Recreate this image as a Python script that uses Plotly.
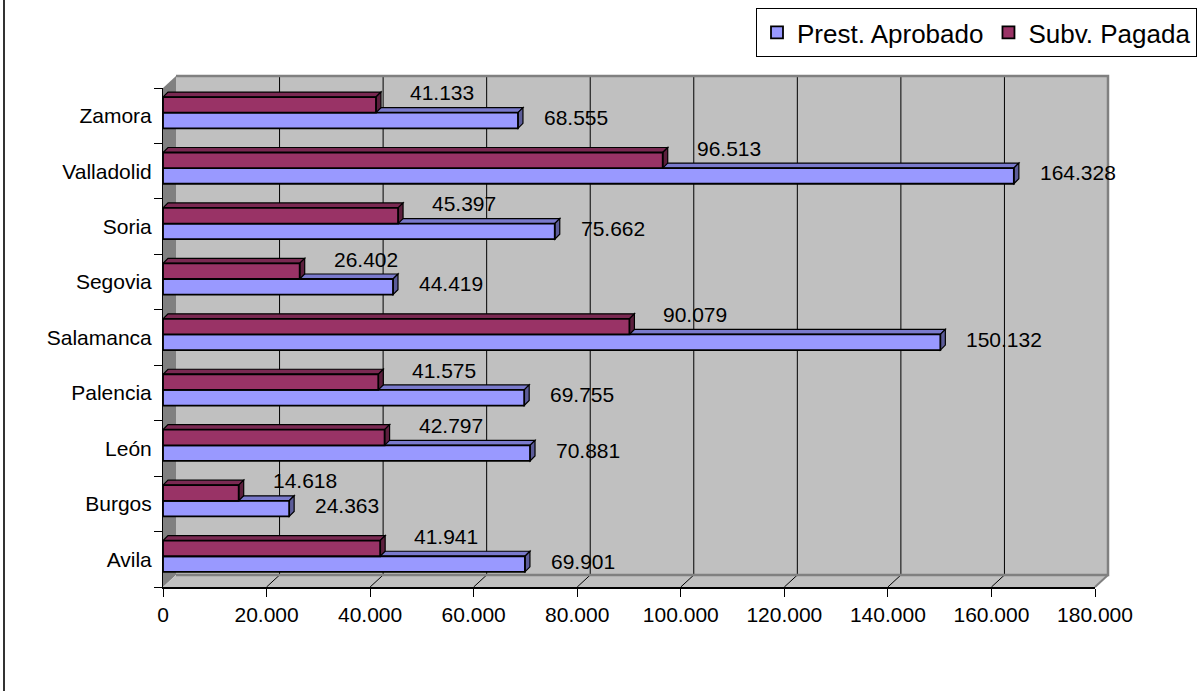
import plotly.graph_objects as go

# ---------------- data ----------------
categories = ["Avila", "Burgos", "León", "Palencia", "Salamanca",
              "Segovia", "Soria", "Valladolid", "Zamora"]
prest_aprobado = [69901, 24363, 70881, 69755, 150132, 44419, 75662, 164328, 68555]
subv_pagada = [41941, 14618, 42797, 41575, 90079, 26402, 45397, 96513, 41133]
x_ticks = [0, 20000, 40000, 60000, 80000, 100000, 120000, 140000, 160000, 180000]
series_names = ["Prest. Aprobado", "Subv. Pagada"]

# ---------------- geometry / style ----------------
FIG_W, FIG_H = 1197, 691
L, T = 163, 76
FRONT_W, FRONT_H = 932, 499
DEPTH_X, DEPTH_Y = 13, 12
PW, PH = FRONT_W + DEPTH_X, FRONT_H + DEPTH_Y
R = FIG_W - L - PW
B = FIG_H - T - PH
X_MAX = x_ticks[-1]
FW, FH = FRONT_W / PW, FRONT_H / PH
DXP, DYP = DEPTH_X / PW, DEPTH_Y / PH

BLUE, BLUE_TOP, BLUE_END = "#9999FF", "#7A7ACC", "#5C5C99"
MAR, MAR_TOP, MAR_END = "#993366", "#7A2952", "#5C1F3D"
FONT = "Arial, 'Liberation Sans', sans-serif"

BAR_W = 0.282
BLUE_OFF, MAR_OFF = -0.227, 0.055
FACE_PX = 5
dx_data = FACE_PX * X_MAX / FRONT_W
dy_cat = FACE_PX * len(categories) / FRONT_H


def fmt(v):
    return f"{v:,}".replace(",", ".")


def xp(v):
    return v / X_MAX * FW


fig = go.Figure()
fig.add_trace(go.Bar(y=categories, x=prest_aprobado, orientation="h", name=series_names[0],
                     marker=dict(color=BLUE, line=dict(color="black", width=1.8)),
                     width=BAR_W, offset=BLUE_OFF, hoverinfo="x+y"))
fig.add_trace(go.Bar(y=categories, x=subv_pagada, orientation="h", name=series_names[1],
                     marker=dict(color=MAR, line=dict(color="black", width=1.8)),
                     width=BAR_W, offset=MAR_OFF, hoverinfo="x+y"))

shapes = []
# back wall, left wall, floor
shapes.append(dict(type="rect", xref="paper", yref="paper", x0=DXP, x1=1, y0=DYP, y1=1,
                   fillcolor="#C0C0C0", line=dict(width=0), layer="below"))
shapes.append(dict(type="path", xref="paper", yref="paper",
                   path=f"M 0,0 L {DXP},{DYP} L {DXP},1 L 0,{FH} Z",
                   fillcolor="#808080", line=dict(width=0), layer="below"))
shapes.append(dict(type="path", xref="paper", yref="paper",
                   path=f"M 0,0 L {FW},0 L 1,{DYP} L {DXP},{DYP} Z",
                   fillcolor="#C0C0C0", line=dict(width=0), layer="below"))
# gridlines on wall and floor
for t in x_ticks[1:-1]:
    shapes.append(dict(type="line", xref="paper", yref="paper",
                       x0=xp(t) + DXP, x1=xp(t) + DXP, y0=DYP, y1=1,
                       line=dict(color="black", width=1), layer="below"))
    shapes.append(dict(type="line", xref="paper", yref="paper",
                       x0=xp(t), x1=xp(t) + DXP, y0=0, y1=DYP,
                       line=dict(color="black", width=1), layer="below"))
# wall border
shapes.append(dict(type="path", xref="paper", yref="paper",
                   path=f"M {DXP},{DYP} L 1,{DYP} L 1,1 L {DXP},1",
                   line=dict(color="#808080", width=2.5), layer="below"))
shapes.append(dict(type="line", xref="paper", yref="paper", x0=FW, y0=0, x1=1, y1=DYP,
                   line=dict(color="#808080", width=2), layer="below"))
# outer chart frame (left edge)
shapes.append(dict(type="line", xref="paper", yref="paper",
                   x0=(4 - L) / PW, x1=(4 - L) / PW, y0=-(B / PH), y1=(T + PH) / PH,
                   line=dict(color="#333333", width=2)))

# 3D faces of the bars
for i in range(len(categories)):
    for vals, off, top_c, end_c in ((prest_aprobado, BLUE_OFF, BLUE_TOP, BLUE_END),
                                    (subv_pagada, MAR_OFF, MAR_TOP, MAR_END)):
        v = vals[i]
        y0 = i + off
        y1 = y0 + BAR_W
        shapes.append(dict(type="path", xref="x", yref="y", layer="between",
                           path=f"M 0,{y1} L {v},{y1} L {v + dx_data},{y1 + dy_cat} L {dx_data},{y1 + dy_cat} Z",
                           fillcolor=top_c, line=dict(color="black", width=1.2)))
        shapes.append(dict(type="path", xref="x", yref="y", layer="between",
                           path=f"M {v},{y0} L {v},{y1} L {v + dx_data},{y1 + dy_cat} L {v + dx_data},{y0 + dy_cat} Z",
                           fillcolor=end_c, line=dict(color="black", width=1.2)))

annotations = []
for i in range(len(categories)):
    annotations.append(dict(x=subv_pagada[i], y=i + MAR_OFF + BAR_W / 2, xref="x", yref="y",
                            text=fmt(subv_pagada[i]), showarrow=False, xanchor="left",
                            xshift=32, yshift=12, font=dict(family=FONT, size=21, color="black")))
    annotations.append(dict(x=prest_aprobado[i], y=i + BLUE_OFF + BAR_W / 2, xref="x", yref="y",
                            text=fmt(prest_aprobado[i]), showarrow=False, xanchor="left",
                            xshift=24, yshift=3, font=dict(family=FONT, size=21, color="black")))

fig.update_layout(
    width=FIG_W, height=FIG_H,
    margin=dict(l=L, r=R, t=T, b=B, pad=0),
    paper_bgcolor="white", plot_bgcolor="rgba(0,0,0,0)",
    barmode="overlay", separators=",.",
    font=dict(family=FONT, size=21, color="black"),
    showlegend=True,
    legend=dict(orientation="h", xref="container", yref="container", x=1.0, y=1 - 8 / FIG_H,
                xanchor="right", yanchor="top", bgcolor="white", bordercolor="black",
                borderwidth=1, font=dict(family=FONT, size=26, color="black"),
                traceorder="normal"),
    xaxis=dict(domain=[0, FW], range=[0, X_MAX], tickvals=x_ticks, tickformat=",",
               ticks="outside", ticklen=8, tickcolor="black", showgrid=False, zeroline=False,
               showline=True, linecolor="black", linewidth=1.5, automargin=False,
               tickfont=dict(family=FONT, size=21, color="black"), fixedrange=True),
    yaxis=dict(domain=[0, FH], type="category", categoryorder="array", categoryarray=categories,
               range=[-0.5, len(categories) - 0.5], tickson="boundaries", ticks="outside",
               ticklen=8, tickcolor="black", showline=True, linecolor="black", linewidth=1,
               showgrid=False, zeroline=False, ticklabelstandoff=6, automargin=False,
               tickfont=dict(family=FONT, size=21, color="black"), fixedrange=True),
    shapes=shapes, annotations=annotations,
)

fig.write_html("out.html", config={"displayModeBar": False})
# remove the default browser body margin so the figure sits at the page origin
with open("out.html", "r", encoding="utf-8") as f:
    html = f.read()
html = html.replace("<head>", "<head><style>html,body{margin:0;padding:0;}</style>", 1)
with open("out.html", "w", encoding="utf-8") as f:
    f.write(html)
